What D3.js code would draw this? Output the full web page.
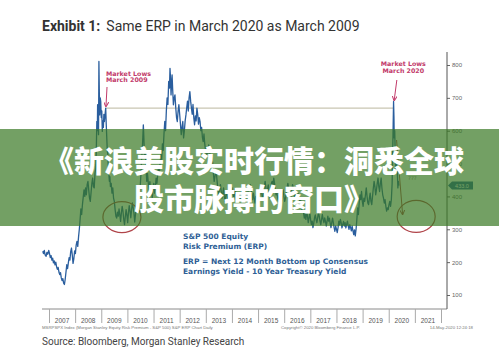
<!DOCTYPE html>
<html><head><meta charset="utf-8">
<script src="https://cdn.jsdelivr.net/npm/d3@7"></script>
<style>body{margin:0;background:#fff}svg{display:block}</style>
</head><body>
<svg id="c" width="499" height="356"></svg>
<script>
const title = "Exhibit 1:";
const subtitle = "Same ERP in March 2020 as March 2009";
const yearLabels = [2007,2008,2009,2010,2011,2012,2013,2014,2015,2016,2017,2018,2019,2020,2021];
const yTicks = [100,200,300,400,500,600,700,800];
const years = [2006.76,2006.79,2006.82,2006.85,2006.89,2006.92,2006.95,2006.99,2007.02,2007.05,2007.08,2007.11,2007.14,2007.17,2007.20,2007.23,2007.26,2007.29,2007.32,2007.35,2007.38,2007.41,2007.44,2007.47,2007.50,2007.53,2007.56,2007.59,2007.62,2007.65,2007.68,2007.71,2007.74,2007.77,2007.80,2007.83,2007.86,2007.89,2007.92,2007.95,2007.98,
2008.01,2008.04,2008.07,2008.10,2008.13,2008.16,2008.19,2008.22,2008.25,2008.28,2008.31,2008.34,2008.37,2008.40,2008.43,2008.46,2008.49,2008.52,2008.55,2008.58,2008.61,2008.64,2008.67,2008.70,2008.73,2008.76,2008.79,2008.81,2008.83,2008.85,2008.86,2008.88,2008.895,2008.91,2008.925,2008.94,2008.96,2008.98,
2009.00,2009.02,2009.04,2009.06,2009.08,2009.10,2009.12,2009.14,2009.17,2009.19,2009.21,2009.23,2009.25,2009.27,2009.29,2009.31,2009.33,2009.35,2009.38,2009.41,2009.44,2009.47,2009.50,2009.53,2009.56,2009.59,2009.62,2009.65,2009.68,2009.71,2009.74,2009.77,2009.80,2009.83,2009.86,2009.89,2009.92,2009.95,2009.98,
2010.01,2010.04,2010.07,2010.10,2010.13,2010.16,2010.19,2010.22,2010.25,2010.28,2010.31,2010.34,2010.37,2010.40,2010.43,2010.46,2010.49,2010.52,2010.55,2010.58,2010.61,2010.63,2010.65,2010.68,2010.71,2010.74,2010.77,2010.80,2010.83,2010.86,2010.89,2010.92,2010.95,2010.98,
2011.01,2011.04,2011.07,2011.10,2011.13,2011.16,2011.19,2011.22,2011.25,2011.28,2011.31,2011.34,2011.37,2011.40,2011.43,2011.46,2011.49,2011.52,2011.55,2011.58,2011.61,2011.63,2011.65,2011.67,2011.69,2011.71,2011.73,2011.76,2011.79,2011.82,2011.85,2011.88,2011.91,2011.94,2011.97,
2012.00,2012.03,2012.06,2012.09,2012.12,2012.15,2012.18,2012.21,2012.24,2012.27,2012.30,2012.33,2012.36,2012.39,2012.42,2012.45,2012.48,2012.51,2012.54,2012.57,2012.60,2012.63,2012.66,2012.69,2012.72,2012.75,2012.78,2012.81,2012.84,2012.87,2012.90,2012.93,2012.96,2012.99,
2013.02,2013.05,2013.08,2013.11,2013.14,2013.17,2013.20,2013.23,2013.26,2013.29,2013.32,2013.35,2013.38,2013.41,2013.44,2013.47,2013.50,2013.53,2013.56,2013.59,2013.62,2013.65,2013.68,2013.71,2013.74,2013.77,2013.80,2013.83,2013.86,2013.89,2013.92,2013.95,2013.98,
2014.01,2014.04,2014.07,2014.10,2014.13,2014.16,2014.19,2014.22,2014.25,2014.28,2014.31,2014.34,2014.37,2014.40,2014.43,2014.46,2014.49,2014.52,2014.55,2014.58,2014.61,2014.64,2014.67,2014.70,2014.73,2014.76,2014.79,2014.82,2014.85,2014.88,2014.91,2014.94,2014.97,
2015.00,2015.03,2015.06,2015.09,2015.12,2015.15,2015.18,2015.21,2015.24,2015.27,2015.30,2015.33,2015.36,2015.39,2015.42,2015.45,2015.48,2015.51,2015.54,2015.57,2015.60,2015.63,2015.66,2015.69,2015.72,2015.75,2015.78,2015.81,2015.84,2015.87,2015.90,2015.93,2015.96,2015.99,
2016.02,2016.05,2016.08,2016.11,2016.14,2016.17,2016.20,2016.23,2016.26,2016.29,2016.32,2016.35,2016.38,2016.41,2016.44,2016.47,2016.50,2016.53,2016.56,2016.59,2016.62,2016.65,2016.68,2016.71,2016.74,2016.77,2016.80,2016.83,2016.86,2016.89,2016.92,2016.95,2016.98,
2017.01,2017.04,2017.07,2017.10,2017.13,2017.16,2017.19,2017.22,2017.25,2017.28,2017.31,2017.34,2017.37,2017.40,2017.43,2017.46,2017.49,2017.52,2017.55,2017.58,2017.61,2017.64,2017.67,2017.70,2017.73,2017.76,2017.79,2017.82,2017.85,2017.88,2017.91,2017.94,2017.97,
2018.00,2018.03,2018.06,2018.09,2018.12,2018.15,2018.18,2018.21,2018.24,2018.27,2018.30,2018.33,2018.36,2018.39,2018.42,2018.45,2018.48,2018.51,2018.54,2018.57,2018.60,2018.63,2018.66,2018.69,2018.72,2018.75,2018.78,2018.81,2018.84,2018.87,2018.90,2018.93,2018.96,2018.99,
2019.02,2019.05,2019.08,2019.11,2019.14,2019.17,2019.20,2019.23,2019.26,2019.29,2019.32,2019.35,2019.38,2019.41,2019.44,2019.47,2019.50,2019.53,2019.56,2019.59,2019.62,2019.65,2019.68,2019.71,2019.74,2019.77,2019.80,2019.83,2019.86,2019.89,2019.92,2019.95,2019.98,
2020.01,2020.04,2020.07,2020.10,2020.13,2020.15,2020.17,2020.185,2020.20,2020.21,2020.23,2020.25,2020.27,2020.29,2020.31,2020.33,2020.35,2020.37,2020.39];
const erp = [233,226,236,222,218,230,224,236,226,214,220,206,212,198,204,192,200,186,178,184,170,162,168,152,144,150,136,132,148,170,192,180,198,214,206,232,243,222,196,210,234,
226,252,263,248,276,300,330,362,345,375,398,420,400,426,405,436,446,420,395,385,412,440,456,430,426,470,486,540,628,600,679,620,588,811,720,648,700,689,
640,660,598,630,610,650,628,645,669,620,580,540,527,490,470,446,460,430,440,410,426,395,385,360,340,334,352,340,362,344,324,350,370,355,330,314,338,360,344,
320,350,372,355,335,360,380,366,350,322,345,370,390,372,400,395,430,470,520,560,618,580,527,545,490,446,470,440,420,445,405,425,395,420,
440,410,430,456,440,466,490,470,500,527,510,560,540,590,628,600,660,700,680,750,730,790,760,709,740,770,730,679,700,709,670,640,628,660,679,
650,620,588,610,628,578,600,630,648,670,690,660,700,719,690,669,650,680,640,618,645,630,669,650,620,640,628,600,610,580,567,590,560,540,
527,545,530,557,540,520,500,486,505,470,446,460,475,466,440,420,405,425,436,415,395,410,426,400,385,405,415,395,380,400,412,395,420,
426,405,390,410,425,400,385,395,410,405,390,400,415,426,410,395,410,420,400,395,412,430,420,436,426,405,390,410,395,380,400,395,410,
405,420,400,410,425,405,390,410,430,446,425,405,420,435,412,395,418,440,446,430,456,440,420,405,415,395,385,400,410,395,385,405,420,400,
385,395,410,426,440,426,405,415,400,420,436,426,410,395,405,385,395,410,400,385,395,375,360,370,350,334,345,330,355,340,320,334,350,
330,314,325,305,318,335,344,330,320,335,350,340,325,314,330,345,330,320,335,324,310,324,340,325,334,318,305,320,334,320,305,294,310,
300,290,305,325,314,330,320,304,315,324,310,320,304,315,325,310,300,314,305,295,310,296,284,298,280,300,330,365,345,380,405,390,415,385,
370,395,385,405,426,400,380,375,395,410,385,375,400,425,446,430,405,420,440,456,430,415,440,456,425,405,395,380,390,370,355,365,360,
375,385,370,390,440,527,620,689,640,578,600,520,476,510,527,470,426,446,433];
const refLevel = 669, refStart = 2009.17, refEnd = 2020.185;
const lastValue = "433.0";

const svg = d3.select("#c");
const x = d3.scaleLinear().domain([2007, 2022]).range([49, 441]);
const y = d3.scaleLinear().domain([100, 800]).range([295, 65]);
const data = years.map((t, i) => ({t, v: erp[i]}));

// title
const tt = svg.append("text").attr("x", 42).attr("y", 31).attr("font-family", "Roboto, Arial, sans-serif").attr("font-size", 14).attr("fill", "#333");
tt.append("tspan").attr("font-weight", "bold").text(title);
tt.append("tspan").attr("dx", 6).text(subtitle);

// bottom axis
svg.append("line").attr("x1", 42).attr("x2", 447).attr("y1", 309).attr("y2", 309).attr("stroke", "#8a8a8a").attr("stroke-width", 1);
const xb = svg.append("g").attr("transform", "translate(0,309)")
  .call(d3.axisBottom(x).tickValues(d3.range(2007, 2023)).tickSize(14).tickFormat(""));
xb.select(".domain").remove();
xb.selectAll("line").attr("stroke", "#aaa");
svg.append("g").selectAll("text").data(yearLabels).join("text")
  .attr("x", d => x(d + 0.5)).attr("y", 322.5).attr("text-anchor", "middle")
  .attr("font-family", "Liberation Sans, Arial, sans-serif").attr("font-size", 6.5).attr("fill", "#555").text(d => d);

// right axis
const ya = svg.append("g").attr("transform", "translate(447,0)")
  .call(d3.axisRight(y).tickValues(yTicks).tickSize(3).tickPadding(2));
ya.select(".domain").remove();
ya.selectAll("line").attr("stroke", "#666");
ya.selectAll("text").attr("font-family", "Liberation Sans, Arial, sans-serif").attr("font-size", 6).attr("fill", "#666");
svg.append("line").attr("x1", 447).attr("x2", 447).attr("y1", 52).attr("y2", 309).attr("stroke", "#555").attr("stroke-width", 1);

// reference line
svg.append("line").attr("x1", x(refStart)).attr("x2", x(refEnd)).attr("y1", y(refLevel)).attr("y2", y(refLevel))
  .attr("stroke", "#c9c6b2").attr("stroke-width", 1.2);

// series
svg.append("path").datum(data).attr("fill", "none").attr("stroke", "#2a5e9e").attr("stroke-width", 1.3)
  .attr("stroke-linejoin", "round")
  .attr("d", d3.line().x(d => x(d.t)).y(d => y(d.v)));

// last value tag
const tagY = y(433);
svg.append("path").attr("d", `M448,${tagY} L452,${tagY-4} L473,${tagY-4} L473,${tagY+4} L452,${tagY+4} Z`).attr("fill", "#2a5e9e");
svg.append("text").attr("x", 462).attr("y", tagY + 2).attr("text-anchor", "middle").attr("font-family", "Liberation Sans, Arial").attr("font-size", 5.5).attr("fill", "#fff").text(lastValue);

// annotations
const red = "#c23a6a";
const ann = (lines, xx, yy, anchor) => {
  const t = svg.append("text").attr("font-family", "DejaVu Sans, Verdana, sans-serif").attr("font-weight", "bold").attr("font-size", 6.3).attr("fill", red).attr("text-anchor", anchor);
  lines.forEach((l, i) => t.append("tspan").attr("x", xx).attr("y", yy + i * 6.7).text(l));
};
ann(["Market Lows", "March 2009"], x(2009.18), 75.5, "start");
ann(["Market Lows", "March 2020"], x(2020.56), 66, "middle");
svg.append("defs").html(`<marker id="ah" viewBox="0 0 10 10" refX="8" refY="5" markerWidth="5" markerHeight="5" orient="auto"><path d="M0,0 L10,5 L0,10" fill="none" stroke="${red}" stroke-width="2"/></marker>
<marker id="ah2" viewBox="0 0 10 10" refX="8" refY="5" markerWidth="5" markerHeight="5" orient="auto"><path d="M0,0 L10,5 L0,10" fill="none" stroke="#b0454a" stroke-width="2"/></marker>`);
svg.append("line").attr("x1", x(2009.22)).attr("y1", 87).attr("x2", x(2009.18)).attr("y2", y(refLevel) - 2).attr("stroke", red).attr("stroke-width", 1).attr("marker-end", "url(#ah)");
svg.append("line").attr("x1", x(2020.31)).attr("y1", 80).attr("x2", x(2020.21)).attr("y2", 100).attr("stroke", red).attr("stroke-width", 1).attr("marker-end", "url(#ah)");
svg.append("line").attr("x1", x(2020.3)).attr("y1", 140).attr("x2", x(2020.53)).attr("y2", 214).attr("stroke", "#b0454a").attr("stroke-width", 1).attr("marker-end", "url(#ah2)");
svg.append("ellipse").attr("cx", x(2009.79)).attr("cy", y(337)).attr("rx", 19).attr("ry", 15.5).attr("fill", "none").attr("stroke", "#b0454a").attr("stroke-width", 1.2);
svg.append("ellipse").attr("cx", x(2021.05)).attr("cy", y(339)).attr("rx", 19).attr("ry", 16).attr("fill", "none").attr("stroke", "#b0454a").attr("stroke-width", 1.2);
svg.append("text").attr("x", 408).attr("y", 180).attr("font-family", "DejaVu Sans, Verdana").attr("font-size", 5.5).attr("fill", "#888").text("???");

// legend text
const leg = (lines, yy) => {
  const t = svg.append("text").attr("font-family", "DejaVu Sans, Verdana, sans-serif").attr("font-weight", "bold").attr("font-size", 7.5).attr("fill", "#2f5f96");
  lines.forEach((l, i) => t.append("tspan").attr("x", 183).attr("y", yy + i * 9.5).text(l));
};
leg(["S&P 500 Equity", "Risk Premium (ERP)"], 239);
leg(["ERP = Next 12 Month Bottom up Consensus", "Earnings Yield - 10 Year Treasury Yield"], 264);

// footers
const small = (txt, xx, anchor) => svg.append("text").attr("x", xx).attr("y", 328.5).attr("text-anchor", anchor).attr("font-family", "Liberation Sans, Arial").attr("font-size", 4.3).attr("fill", "#777").text(txt);
small("MSRPSPX Index (Morgan Stanley Equity Risk Premium - S&P 500) S&P ERP Chart  Daily", 42, "start");
small("Copyright\u00A9 2020 Bloomberg Finance L.P.", 281, "start");
small("14-May-2020 12:24:18", 473, "end");
svg.append("text").attr("x", 42).attr("y", 344.5).attr("font-family", "Roboto, Arial, sans-serif").attr("font-size", 10).attr("fill", "#444").text("Source: Bloomberg, Morgan Stanley Research");

// banner overlay
svg.append("rect").attr("x", 0).attr("y", 129).attr("width", 499).attr("height", 97).attr("fill", "rgb(55,119,34)").attr("fill-opacity", 0.7);
const bn = svg.append("text").attr("text-anchor", "middle").attr("font-family", "Noto Sans CJK SC, sans-serif").attr("font-weight", 900).attr("font-size", 30).attr("fill", "#fff");
bn.append("tspan").attr("x", 254).attr("y", 172).text("《新浪美股实时行情：洞悉全球");
bn.append("tspan").attr("x", 254).attr("y", 210).text("股市脉搏的窗口》");
</script>
</body></html>
